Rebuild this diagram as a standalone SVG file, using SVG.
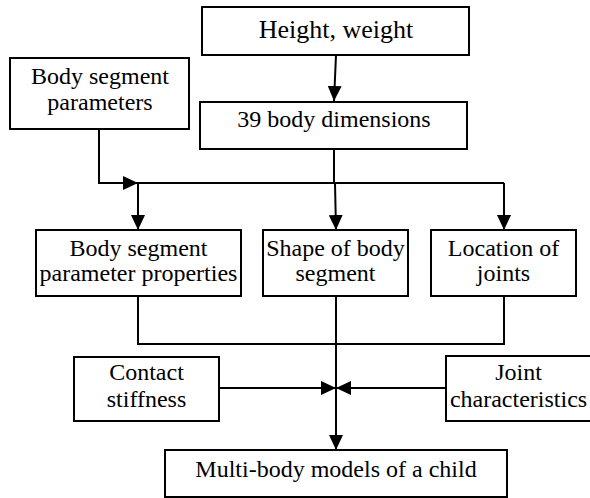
<svg xmlns="http://www.w3.org/2000/svg" width="590" height="498" viewBox="0 0 590 498">
<style>
.box{fill:#fff;stroke:#000;stroke-width:2}
text{font-family:'Liberation Serif','Times New Roman',serif;font-size:24px;fill:#000;text-anchor:middle}
.big{font-size:26px}
.c{fill:none;stroke:#000;stroke-width:2}
</style>
<defs>
<marker id="ah" markerUnits="userSpaceOnUse" markerWidth="15" markerHeight="14" refX="15" refY="7" orient="auto">
<path d="M0,0 L15,7 L0,14 z" fill="#000"/>
</marker>
</defs>
<rect width="590" height="498" fill="#fff"/>
<g id="connectors">
<line class="c" x1="336" y1="55" x2="334" y2="101" marker-end="url(#ah)"/>
<polyline class="c" points="99,129 99,183 138,183" marker-end="url(#ah)"/>
<line class="c" x1="334" y1="149" x2="334" y2="183"/>
<line class="c" x1="138" y1="183" x2="504" y2="183"/>
<line class="c" x1="138" y1="183" x2="138" y2="230" marker-end="url(#ah)"/>
<line class="c" x1="335" y1="183" x2="336" y2="230" marker-end="url(#ah)"/>
<line class="c" x1="504" y1="183" x2="504" y2="230" marker-end="url(#ah)"/>
<polyline class="c" points="138,296 138,344 504,344 504,296"/>
<line class="c" x1="336" y1="296" x2="336" y2="450" marker-end="url(#ah)"/>
<line class="c" x1="219" y1="388" x2="336" y2="388" marker-end="url(#ah)"/>
<line class="c" x1="446" y1="388" x2="336" y2="388" marker-end="url(#ah)"/>
</g>
<g id="height">
<rect class="box" x="202" y="7" width="267" height="48"/>
<text class="big" x="336" y="38">Height, weight</text>
</g>
<g id="bsp">
<rect class="box" x="10" y="58" width="179" height="71"/>
<text x="100" y="84">Body segment</text>
<text x="100" y="110">parameters</text>
</g>
<g id="dims">
<rect class="box" x="200" y="102" width="267" height="47"/>
<text x="334" y="127">39 body dimensions</text>
</g>
<g id="bspp">
<rect class="box" x="36" y="230" width="205" height="66"/>
<text x="138.5" y="256">Body segment</text>
<text x="138.5" y="281">parameter properties</text>
</g>
<g id="shape">
<rect class="box" x="263" y="230" width="145" height="66"/>
<text x="335.5" y="256">Shape of body</text>
<text x="335.5" y="281">segment</text>
</g>
<g id="loc">
<rect class="box" x="431" y="230" width="145" height="66"/>
<text x="503.5" y="256">Location of</text>
<text x="503.5" y="281">joints</text>
</g>
<g id="contact">
<rect class="box" x="74" y="357" width="145" height="64"/>
<text x="146.5" y="380">Contact</text>
<text x="146.5" y="407">stiffness</text>
</g>
<g id="joint">
<rect class="box" x="446" y="356" width="160" height="65"/>
<text x="518.5" y="380">Joint</text>
<text x="518.5" y="407">characteristics</text>
</g>
<g id="multibody">
<rect class="box" x="165" y="450" width="342" height="47"/>
<text x="336" y="477">Multi-body models of a child</text>
</g>
</svg>
